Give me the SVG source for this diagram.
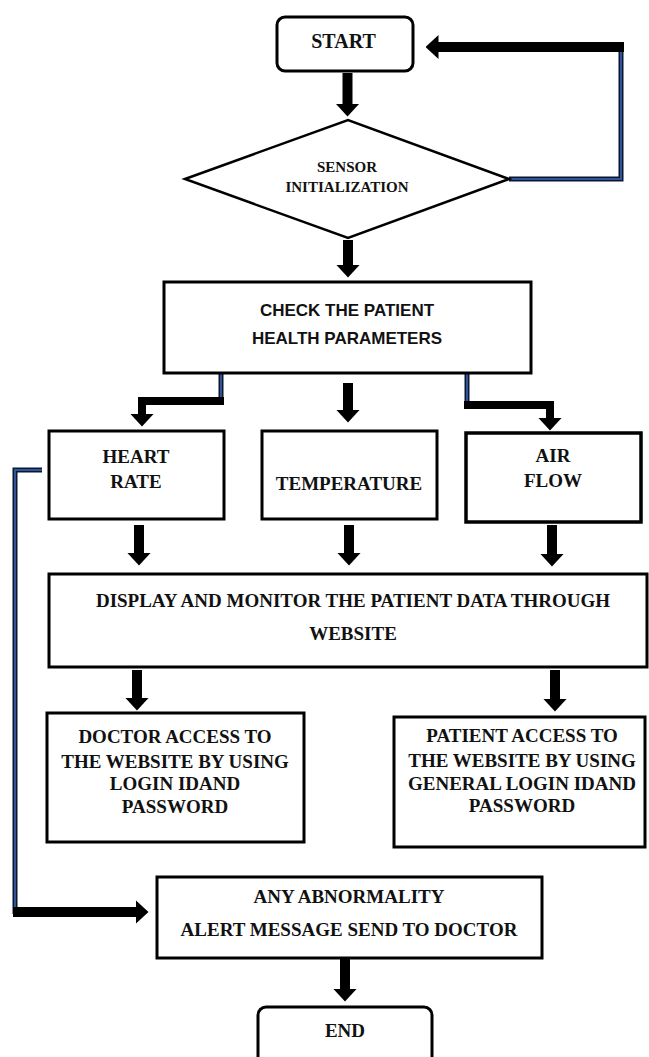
<svg xmlns="http://www.w3.org/2000/svg" width="649" height="1057" viewBox="0 0 649 1057">
<style>
.box{fill:#fff;stroke:#000;stroke-width:3}
.dia{fill:#fff;stroke:#000;stroke-width:2.5}
.t{font-family:"Liberation Serif","Times New Roman",serif;font-weight:bold;font-size:19px;text-anchor:middle;fill:#111}
.ts{font-family:"Liberation Sans",Arial,sans-serif;font-weight:bold;font-size:17px;text-anchor:middle;fill:#111}
.arr{fill:none;stroke:#000;stroke-width:10;stroke-linejoin:miter;marker-end:url(#head)}
.arr8{fill:none;stroke:#000;stroke-width:8;stroke-linejoin:miter;marker-end:url(#head)}
.blueo{fill:none;stroke:#0b1730;stroke-width:5;stroke-linejoin:miter}
.bluei{fill:none;stroke:#2f5597;stroke-width:2;stroke-linejoin:miter}
</style>
<defs>
<marker id="head" viewBox="0 0 13 24" refX="0.5" refY="12" markerWidth="13" markerHeight="24" markerUnits="userSpaceOnUse" orient="auto">
<path d="M0,0 L13,12 L0,24 z" fill="#000"/>
</marker>
</defs>
<rect width="649" height="1057" fill="#fff"/>

<g id="connectors">
<line class="arr" x1="347.5" y1="73" x2="347.5" y2="104"/>
<path class="blueo" d="M509,179 H621 V47"/>
<path class="bluei" d="M509,179 H621 V47"/>
<line class="arr" x1="624" y1="47" x2="438" y2="47"/>
<line class="arr" x1="348" y1="240" x2="348" y2="265"/>
<path class="blueo" d="M221,373 V401"/>
<path class="bluei" d="M221,373 V401"/>
<path class="arr8" d="M224,401 H142 V414"/>
<line class="arr" x1="348" y1="383" x2="348" y2="410"/>
<path class="blueo" d="M467,373 V405"/>
<path class="bluei" d="M467,373 V405"/>
<path class="arr8" d="M464,405 H550 V418"/>
<line class="arr" x1="139" y1="525" x2="139" y2="553"/>
<line class="arr" x1="349" y1="525" x2="349" y2="553"/>
<line class="arr" x1="552" y1="525" x2="552" y2="554"/>
<line class="arr" x1="137" y1="670" x2="137" y2="698"/>
<line class="arr" x1="555" y1="670" x2="555" y2="699"/>
<path class="blueo" d="M42,470 H15 V914"/>
<path class="bluei" d="M42,470 H15 V914"/>
<line class="arr" x1="13" y1="912" x2="136" y2="912"/>
<line class="arr" x1="345" y1="958" x2="345" y2="989"/>
</g>

<g id="start">
<rect class="box" x="277" y="17" width="136" height="54" rx="8"/>
<text class="t" x="343.5" y="48" style="font-size:20px">START</text>
</g>
<g id="sensor">
<polygon class="dia" points="185,179 348,120 509,179 348,238"/>
<text class="t" x="347" y="172" style="font-size:15px">SENSOR</text>
<text class="t" x="347" y="192" style="font-size:15px">INITIALIZATION</text>
</g>
<g id="check">
<rect class="box" x="164" y="282" width="367" height="91"/>
<text class="ts" x="347" y="316">CHECK THE PATIENT</text>
<text class="ts" x="347" y="344">HEALTH PARAMETERS</text>
</g>
<g id="heart">
<rect class="box" x="49" y="431" width="175" height="88"/>
<text class="t" x="136" y="463">HEART</text>
<text class="t" x="136" y="488">RATE</text>
</g>
<g id="temperature">
<rect class="box" x="262" y="431" width="175" height="88"/>
<text class="t" x="349" y="490">TEMPERATURE</text>
</g>
<g id="airflow">
<rect class="box" x="466" y="433" width="175" height="89" style="stroke-width:3.5"/>
<text class="t" x="553" y="462">AIR</text>
<text class="t" x="553" y="487">FLOW</text>
</g>
<g id="display">
<rect class="box" x="49" y="574" width="598" height="93"/>
<text class="t" x="353" y="607">DISPLAY AND MONITOR THE PATIENT DATA THROUGH</text>
<text class="t" x="353" y="640">WEBSITE</text>
</g>
<g id="doctor">
<rect class="box" x="47" y="713" width="257" height="129"/>
<text class="t" x="175" y="743">DOCTOR ACCESS TO</text>
<text class="t" x="175" y="768">THE WEBSITE BY USING</text>
<text class="t" x="175" y="790">LOGIN IDAND</text>
<text class="t" x="175" y="813">PASSWORD</text>
</g>
<g id="patient">
<rect class="box" x="394" y="717" width="251" height="130"/>
<text class="t" x="522" y="742">PATIENT ACCESS TO</text>
<text class="t" x="522" y="767">THE WEBSITE BY USING</text>
<text class="t" x="522" y="790">GENERAL LOGIN IDAND</text>
<text class="t" x="522" y="812">PASSWORD</text>
</g>
<g id="abnormality">
<rect class="box" x="157" y="877" width="385" height="81"/>
<text class="t" x="349" y="903">ANY ABNORMALITY</text>
<text class="t" x="349" y="936">ALERT MESSAGE SEND TO DOCTOR</text>
</g>
<g id="end">
<rect class="box" x="258" y="1007" width="174" height="60" rx="8"/>
<text class="t" x="345" y="1037">END</text>
</g>
</svg>
